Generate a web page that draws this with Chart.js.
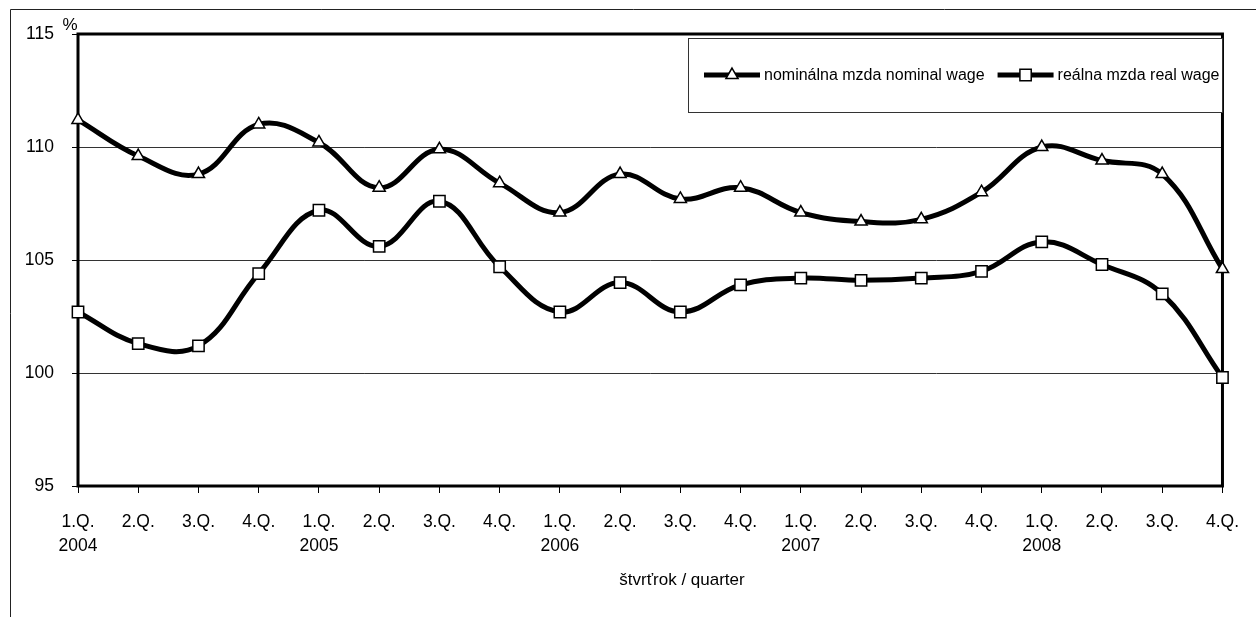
<!DOCTYPE html>
<html>
<head>
<meta charset="utf-8">
<script src="https://cdn.jsdelivr.net/npm/chart.js@4/dist/chart.umd.min.js"></script>
<style>
html, body { margin: 0; padding: 0; background: #fff; }
#wageChart { display: block; }
</style>
</head>
<body>
<canvas id="wageChart" width="1256" height="617"></canvas>
<script>
// quarters 2004 - 2008
var quarterLabels = ['1.Q.', '2.Q.', '3.Q.', '4.Q.', '1.Q.', '2.Q.', '3.Q.', '4.Q.', '1.Q.', '2.Q.',
                     '3.Q.', '4.Q.', '1.Q.', '2.Q.', '3.Q.', '4.Q.', '1.Q.', '2.Q.', '3.Q.', '4.Q.'];
var yearLabels = ['2004', '', '', '', '2005', '', '', '', '2006', '', '', '', '2007', '', '', '', '2008', '', '', ''];

// index, same quarter of previous year = 100
var nominalWage = [111.2, 109.6, 108.8, 111.0, 110.2, 108.2, 109.9, 108.4, 107.1, 108.8,
                   107.7, 108.2, 107.1, 106.7, 106.8, 108.0, 110.0, 109.4, 108.8, 104.6];
var realWage = [102.7, 101.3, 101.2, 104.4, 107.2, 105.6, 107.6, 104.7, 102.7, 104.0,
                102.7, 103.9, 104.2, 104.1, 104.2, 104.5, 105.8, 104.8, 103.5, 99.8];

var seriesNames = ['nominálna mzda nominal wage', 'reálna mzda real wage'];
var yMin = 95;
var yMax = 115;
var yStep = 5;
var unitLabel = '%';
var axisTitle = 'štvrťrok / quarter';

const FONT = '"Liberation Sans", Arial, sans-serif';

var chartLabels = quarterLabels.map(function(q, i){
    return yearLabels[i] ? [q, yearLabels[i]] : q;
});

// frame round the plot, outer border, % sign, axis title and legend box
var decorPlugin = {
    id: 'decor',
    beforeDraw: function(chart){
        const ctx = chart.ctx;
        ctx.save();
        ctx.strokeStyle = '#222';
        ctx.lineWidth = 1;
        ctx.beginPath();
        ctx.moveTo(10.5, 617);
        ctx.lineTo(10.5, 9.5);
        ctx.lineTo(1256, 9.5);
        ctx.stroke();
        ctx.restore();
    },
    beforeDatasetsDraw: function(chart){
        const ctx = chart.ctx;
        const a = chart.chartArea;
        ctx.save();
        ctx.strokeStyle = '#000';
        ctx.lineWidth = 3;
        ctx.strokeRect(a.left, a.top, a.right - a.left, a.bottom - a.top);
        ctx.restore();
    },
    afterDraw: function(chart){
        const ctx = chart.ctx;
        const a = chart.chartArea;
        ctx.save();
        ctx.fillStyle = '#000';
        ctx.font = '17px ' + FONT;
        ctx.textAlign = 'center';
        ctx.textBaseline = 'middle';
        ctx.fillText(unitLabel, a.left - 8, a.top - 9);

        ctx.font = '17px ' + FONT;
        ctx.fillText(axisTitle, 682, 580);

        // legend
        const box = {x: 688, y: 38, w: 534, h: 74};
        ctx.fillStyle = '#fff';
        ctx.fillRect(box.x, box.y, box.w, box.h);
        ctx.strokeStyle = '#333';
        ctx.lineWidth = 1;
        ctx.strokeRect(box.x + 0.5, box.y + 0.5, box.w, box.h);

        ctx.font = '16px ' + FONT;
        ctx.textAlign = 'left';
        const cy = box.y + box.h / 2;
        let x = 704;
        chart.data.datasets.forEach(function(ds){
            ctx.strokeStyle = ds.borderColor;
            ctx.lineWidth = ds.borderWidth;
            ctx.beginPath();
            ctx.moveTo(x, cy);
            ctx.lineTo(x + 56, cy);
            ctx.stroke();
            ctx.fillStyle = ds.pointBackgroundColor;
            ctx.strokeStyle = ds.pointBorderColor;
            ctx.lineWidth = ds.pointBorderWidth;
            Chart.helpers.drawPoint(ctx, {
                pointStyle: ds.pointStyle,
                radius: ds.pointRadius,
                rotation: 0,
                borderWidth: ds.pointBorderWidth
            }, x + 28, cy);
            ctx.fillStyle = '#000';
            ctx.fillText(ds.label, x + 60, cy + 1);
            x += 60 + ctx.measureText(ds.label).width + 13;
        });
        ctx.restore();
    }
};

var wageChart = new Chart(document.getElementById('wageChart'), {
    type: 'line',
    data: {
        labels: chartLabels,
        datasets: [
            {
                label: seriesNames[0],
                data: nominalWage,
                borderColor: '#000',
                borderWidth: 5,
                tension: 0.4,
                pointStyle: 'triangle',
                pointRadius: 7,
                pointBackgroundColor: '#fff',
                pointBorderColor: '#000',
                pointBorderWidth: 1.5,
                clip: false
            },
            {
                label: seriesNames[1],
                data: realWage,
                borderColor: '#000',
                borderWidth: 5,
                tension: 0.4,
                pointStyle: 'rect',
                pointRadius: 8,
                pointBackgroundColor: '#fff',
                pointBorderColor: '#000',
                pointBorderWidth: 1.5,
                clip: false
            }
        ]
    },
    options: {
        responsive: false,
        animation: false,
        events: [],
        layout: { padding: { top: 34, right: 24, left: 0, bottom: 0 } },
        plugins: {
            legend: { display: false },
            tooltip: { enabled: false }
        },
        scales: {
            x: {
                offset: false,
                border: { display: false },
                grid: {
                    drawOnChartArea: false,
                    drawTicks: true,
                    tickLength: 7,
                    color: '#000',
                    lineWidth: 1
                },
                ticks: {
                    color: '#000',
                    font: { family: FONT, size: 17.5, lineHeight: 1.38 },
                    padding: 17,
                    maxRotation: 0,
                    autoSkip: false
                },
                afterFit: function(scale){ scale.height = 131; }
            },
            y: {
                min: yMin,
                max: yMax,
                border: { display: false },
                grid: {
                    color: function(c){
                        const v = c.tick ? c.tick.value : null;
                        return (v === yMin || v === yMax) ? 'rgba(0,0,0,0)' : '#333';
                    },
                    tickColor: '#000',
                    tickLength: 6,
                    lineWidth: 1
                },
                ticks: {
                    stepSize: yStep,
                    color: '#000',
                    font: { family: FONT, size: 17.5 },
                    padding: 18
                },
                afterFit: function(scale){ scale.width = 78; }
            }
        }
    },
    plugins: [decorPlugin]
});
</script>
</body>
</html>
